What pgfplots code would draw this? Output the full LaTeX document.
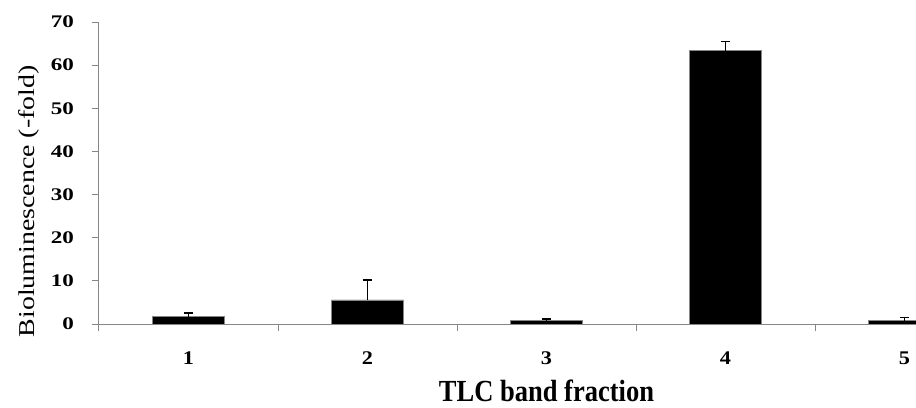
\documentclass[border=0pt]{standalone}
\usepackage{pgfplots}
\pgfplotsset{compat=1.18}
\usepackage{fontspec}
\setmainfont{Liberation Serif}
\definecolor{axisgray}{RGB}{134,134,134}
\begin{document}
\begin{tikzpicture}
\useasboundingbox (-74.25pt,-62.25pt) rectangle (612.75pt,243pt);
\clip (-74.25pt,-62.25pt) rectangle (612.75pt,243pt);
\begin{axis}[
  at={(0pt,0pt)}, anchor=south west,
  scale only axis,
  width=671.25pt, height=226.5pt,
  xmin=0.5, xmax=5.5, ymin=0, ymax=70,
  axis x line*=bottom, axis y line*=left,
  axis line style={draw=axisgray, line width=0.75pt},
  tick align=outside,
  xtick={1,2,3,4,5},
  minor xtick={0.5,1.5,2.5,3.5,4.5,5.5},
  major x tick style={draw=none},
  minor x tick style={draw=axisgray, line width=0.75pt},
  minor tick length=5.25pt,
  major tick length=5.25pt,
  ytick={0,10,...,70},
  y tick style={draw=axisgray, line width=0.75pt},
  /pgf/number format/assume math mode=true,
  yticklabel style={font=\bfseries\fontsize{13.3}{15}\selectfont, anchor=east, xshift=-10pt},
  xticklabel style={font=\bfseries\fontsize{14.5}{16}\selectfont, anchor=north, yshift=-12pt},
  yticklabel={\scalebox{1.3}[1]{\pgfmathprintnumber{\tick}}},
  xticklabel={\scalebox{1.15}[1]{\pgfmathprintnumber{\tick}}},
  ylabel={\scalebox{1.23}[1]{Bioluminescence (-fold)}},
  ylabel style={font=\fontsize{17}{20}\selectfont, at={(axis description cs:-0.078,0.406)}, anchor=center},
  xlabel={\scalebox{0.865}[1]{TLC band fraction}},
  xlabel style={font=\bfseries\fontsize{23}{26}\selectfont, at={(axis description cs:0.5,0)}, anchor=base, yshift=-58pt},
  ybar, bar width=54pt,
]
\addplot[fill=black, draw=axisgray, line width=0.5pt,
  error bars/.cd, y dir=plus, y explicit,
  error bar style={black, line width=1.1pt},
  error mark options={black, line width=1.1pt, mark size=3.4pt, rotate=90}]
  coordinates {
  (1,1.7) +- (0,0.9)
  (2,5.6) +- (0,4.6)
  (3,0.8) +- (0,0.4)
  (4,63.35) +- (0,2.1)
  (5,0.8) +- (0,0.7)
};
\end{axis}
\end{tikzpicture}
\end{document}
